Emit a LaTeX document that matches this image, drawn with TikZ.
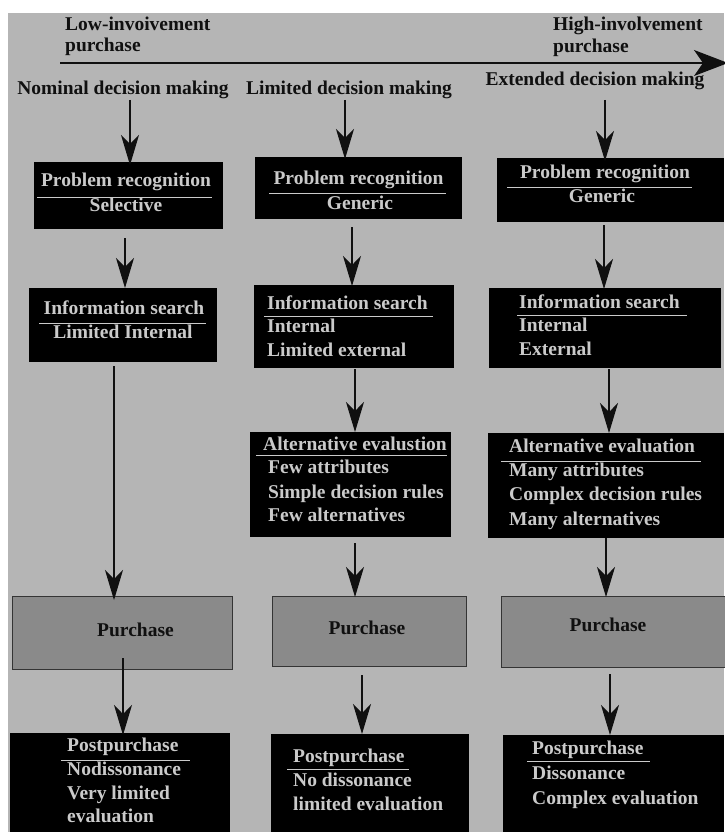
\documentclass[tikz,border=0pt]{standalone}
\usepackage{fontspec}
\setmainfont{Liberation Serif}
\usetikzlibrary{arrows.meta}
\definecolor{bg}{RGB}{181,181,181}
\definecolor{boxtext}{RGB}{202,202,202}
\definecolor{purfill}{RGB}{138,138,138}
\definecolor{ink}{RGB}{16,16,16}
\begin{document}
\begin{tikzpicture}[x=1pt,y=-1pt,
  blackbox/.style={draw=none, fill=black, inner sep=0pt, outer sep=0pt, anchor=north west},
  graybox/.style={draw=ink!85, line width=0.9pt, fill=purfill, inner sep=0pt, outer sep=0pt, anchor=north west},
  intext/.style={text=boxtext, font=\fontsize{19.5}{23}\selectfont\bfseries, inner sep=0pt},
  outtext/.style={text=ink, font=\fontsize{19.5}{23}\selectfont\bfseries, inner sep=0pt},
  arr/.style={draw=ink, line width=1.1pt, -{Stealth[length=30pt,width=18pt,inset=9pt]}},
  axis/.style={draw=ink, line width=1.3pt, -{Stealth[length=34pt,width=26pt,inset=9pt]}},
  uline/.style={draw=boxtext, line width=1pt}]
\useasboundingbox (0,0) rectangle (724,832);
\fill[white] (0,0) rectangle (724,832);
\fill[bg] (8,13) rectangle (724,832);

% top axis
\coordinate (ax0) at (60,63);
\coordinate (ax1) at (728,63);
\draw[axis] (ax0) -- (ax1);
\node[outtext, anchor=mid west] (low1) at (65,28) {Low-invoivement};
\node[outtext, anchor=mid west] (low2) at (65,49) {purchase};
\node[outtext, anchor=mid west] (high1) at (553,28) {High-involvement};
\node[outtext, anchor=mid west] (high2) at (553,50) {purchase};

% headers
\node[outtext, anchor=mid] (h1) at (123,92.5) {Nominal decision making};
\node[outtext, anchor=mid] (h2) at (349,92.5) {Limited decision making};
\node[outtext, anchor=mid] (h3) at (595,83.5) {Extended decision making};

% ---------- column 1 ----------
\node[blackbox, minimum width=189pt, minimum height=67pt] (n1) at (34,162) {};
\node[blackbox, minimum width=188pt, minimum height=74pt] (n2) at (29,288) {};
\node[graybox, minimum width=220pt, minimum height=73pt] (n3) at (12,596) {};
\node[blackbox, minimum width=220pt, minimum height=99pt] (n4) at (10,733) {};

\node[intext, anchor=mid] (n1a) at (126,184.5) {Problem recognition};
\draw[uline] (37,197) -- (212,197);
\node[intext, anchor=mid] (n1b) at (126,209.5) {Selective};

\node[intext, anchor=mid] (n2a) at (124,312.5) {Information search};
\draw[uline] (39,323) -- (206,323);
\node[intext, anchor=mid] (n2b) at (123,336.5) {Limited Internal};

\node[outtext, anchor=mid] (n3a) at (135.5,634.5) {Purchase};

\node[intext, anchor=mid west] (n4a) at (67,749.5) {Postpurchase};
\draw[uline] (61,760) -- (190,760);
\node[intext, anchor=mid west] (n4b) at (67,773.5) {Nodissonance};
\node[intext, anchor=mid west] (n4c) at (67,797.5) {Very limited};
\node[intext, anchor=mid west] (n4d) at (67,820.5) {evaluation};

\coordinate (c1a) at (130,100);
\draw[arr] (c1a) -- ([yshift=-3pt]c1a |- n1.north);
\coordinate (c1b) at (125,238);
\draw[arr] (c1b) -- (c1b |- n2.north);
\coordinate (c1c) at (114,366);
\draw[arr] (c1c) -- ([yshift=-4pt]c1c |- n3.north);
\coordinate (c1d) at (123,658);
\draw[arr] (c1d) -- ([yshift=-2pt]c1d |- n4.north);

% ---------- column 2 ----------
\node[blackbox, minimum width=207pt, minimum height=62pt] (m1) at (255,157) {};
\node[blackbox, minimum width=200pt, minimum height=83pt] (m2) at (254,285) {};
\node[blackbox, minimum width=201pt, minimum height=105pt] (m3) at (250,432) {};
\node[graybox, minimum width=194pt, minimum height=70pt] (m4) at (272,596) {};
\node[blackbox, minimum width=198pt, minimum height=98pt] (m5) at (271,734) {};

\node[intext, anchor=mid] (m1a) at (358.5,182.5) {Problem recognition};
\draw[uline] (269,193) -- (446,193);
\node[intext, anchor=mid] (m1b) at (360,207.5) {Generic};

\node[intext, anchor=mid west] (m2a) at (267,307.5) {Information search};
\draw[uline] (264,316) -- (433,316);
\node[intext, anchor=mid west] (m2b) at (267,330.5) {Internal};
\node[intext, anchor=mid west] (m2c) at (267,354.5) {Limited external};

\node[intext, anchor=mid west] (m3a) at (263,448.5) {Alternative evalustion};
\draw[uline] (256,455) -- (447,455);
\node[intext, anchor=mid west] (m3b) at (268,471.5) {Few attributes};
\node[intext, anchor=mid west] (m3c) at (268,496.5) {Simple decision rules};
\node[intext, anchor=mid west] (m3d) at (268,519.5) {Few alternatives};

\node[outtext, anchor=mid] (m4a) at (367,632.5) {Purchase};

\node[intext, anchor=mid west] (m5a) at (293,760.5) {Postpurchase};
\draw[uline] (287,769) -- (409,769);
\node[intext, anchor=mid west] (m5b) at (293,784.5) {No dissonance};
\node[intext, anchor=mid west] (m5c) at (293,808.5) {limited evaluation};

\coordinate (c2a) at (345,100);
\draw[arr] (c2a) -- ([yshift=-2pt]c2a |- m1.north);
\coordinate (c2b) at (352,227);
\draw[arr] (c2b) -- ([yshift=-1pt]c2b |- m2.north);
\coordinate (c2c) at (355,369);
\draw[arr] (c2c) -- (c2c |- m3.north);
\coordinate (c2d) at (355,543);
\draw[arr] (c2d) -- ([yshift=-1pt]c2d |- m4.north);
\coordinate (c2e) at (362,675);
\draw[arr] (c2e) -- (c2e |- m5.north);

% ---------- column 3 ----------
\node[blackbox, minimum width=227pt, minimum height=64pt] (e1) at (497,158) {};
\node[blackbox, minimum width=232pt, minimum height=80pt] (e2) at (489,288) {};
\node[blackbox, minimum width=236pt, minimum height=105pt] (e3) at (488,433) {};
\node[graybox, minimum width=226pt, minimum height=71pt] (e4) at (501,596) {};
\node[blackbox, minimum width=221pt, minimum height=97pt] (e5) at (503,735) {};

\node[intext, anchor=mid] (e1a) at (605,176.5) {Problem recognition};
\draw[uline] (507,187) -- (692,187);
\node[intext, anchor=mid] (e1b) at (602,200.5) {Generic};

\node[intext, anchor=mid west] (e2a) at (519,306.5) {Information search};
\draw[uline] (517,315) -- (687,315);
\node[intext, anchor=mid west] (e2b) at (519,329.5) {Internal};
\node[intext, anchor=mid west] (e2c) at (519,353.5) {External};

\node[intext, anchor=mid west] (e3a) at (509,450.5) {Alternative evaluation};
\draw[uline] (501,461) -- (701,461);
\node[intext, anchor=mid west] (e3b) at (509,474.5) {Many attributes};
\node[intext, anchor=mid west] (e3c) at (509,498.5) {Complex decision rules};
\node[intext, anchor=mid west] (e3d) at (509,523.5) {Many alternatives};

\node[outtext, anchor=mid] (e4a) at (608,629.5) {Purchase};

\node[intext, anchor=mid west] (e5a) at (532,752.5) {Postpurchase};
\draw[uline] (527,761) -- (650,761);
\node[intext, anchor=mid west] (e5b) at (532,777.5) {Dissonance};
\node[intext, anchor=mid west] (e5c) at (532,802.5) {Complex evaluation};

\coordinate (c3a) at (605,100);
\draw[arr] (c3a) -- ([yshift=-3pt]c3a |- e1.north);
\coordinate (c3b) at (604,225);
\draw[arr] (c3b) -- ([yshift=-1pt]c3b |- e2.north);
\coordinate (c3c) at (609,369);
\draw[arr] (c3c) -- (c3c |- e3.north);
\coordinate (c3d) at (606,538);
\draw[arr] (c3d) -- ([yshift=-1pt]c3d |- e4.north);
\coordinate (c3e) at (610,674);
\draw[arr] (c3e) -- (c3e |- e5.north);
\end{tikzpicture}
\end{document}
